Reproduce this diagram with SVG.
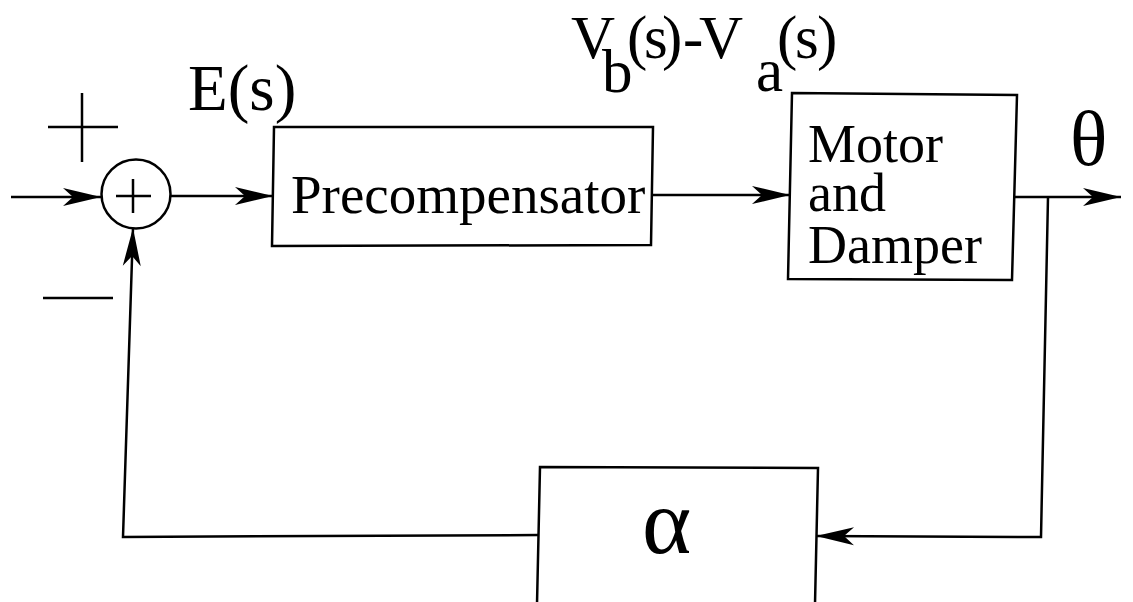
<svg xmlns="http://www.w3.org/2000/svg" width="1133" height="602" viewBox="0 0 1133 602">
<style>
.ln{fill:none;stroke:#000;stroke-width:2.5;stroke-linejoin:miter}
.bx{fill:#fff;stroke:#000;stroke-width:2.5}
.tx{font-family:"Liberation Serif","Times New Roman",serif;fill:#000}
</style>
<defs>
<marker id="arr" markerUnits="userSpaceOnUse" viewBox="-40 -10 42 20" markerWidth="42" markerHeight="20" refX="0" refY="0" orient="auto" overflow="visible">
<path d="M0,0 L-38,-9 L-28,0 L-38,9 Z" fill="#000"/>
</marker>
</defs>
<rect width="1133" height="602" fill="#fff"/>
<g id="connectors">
<line class="ln" x1="11" y1="197" x2="101" y2="197" marker-end="url(#arr)"/>
<line class="ln" x1="170" y1="196" x2="273" y2="196" marker-end="url(#arr)"/>
<line class="ln" x1="652" y1="195" x2="790" y2="195" marker-end="url(#arr)"/>
<line class="ln" x1="1015" y1="197" x2="1121" y2="197" marker-end="url(#arr)"/>
<polyline class="ln" points="1048,197 1041,537 816,536" marker-end="url(#arr)"/>
<polyline class="ln" points="539,535 123,537 133,228" marker-end="url(#arr)"/>
</g>
<g id="signs">
<line class="ln" x1="48" y1="127" x2="118" y2="127"/>
<line class="ln" x1="82" y1="93" x2="82" y2="162"/>
<line class="ln" x1="43" y1="298" x2="113" y2="298"/>
</g>
<g id="sum">
<circle class="bx" cx="136" cy="194" r="34.5"/>
<line class="ln" x1="116" y1="196" x2="151" y2="196"/>
<line class="ln" x1="133" y1="179" x2="133" y2="213"/>
</g>
<g id="precompensator">
<polygon class="bx" points="274,127 653,127 651,245 272,246"/>
<text class="tx" x="291" y="213" font-size="55">Precompensator</text>
</g>
<g id="motor">
<polygon class="bx" points="792,93 1017,95 1012,280 788,279"/>
<text class="tx" x="808" y="162" font-size="54">Motor</text>
<text class="tx" x="808" y="211" font-size="54">and</text>
<text class="tx" x="808" y="263" font-size="54">Damper</text>
</g>
<g id="alpha">
<polyline class="bx" points="537,604 540,467 818,468 815,604"/>
<text class="tx" x="642" y="553" font-size="94">α</text>
</g>
<g id="labels">
<text class="tx" x="188" y="110" font-size="65">E(s)</text>
<text class="tx" font-size="61"><tspan x="571" y="58">V</tspan><tspan x="602" y="92">b</tspan><tspan x="627 644 662" y="58">(s)</tspan><tspan x="683" y="58">-</tspan><tspan x="699" y="58">V</tspan><tspan x="756" y="91">a</tspan><tspan x="777 795 817" y="58">(s)</tspan></text>
<text class="tx" x="1070" y="165" font-size="78">θ</text>
</g>
</svg>
